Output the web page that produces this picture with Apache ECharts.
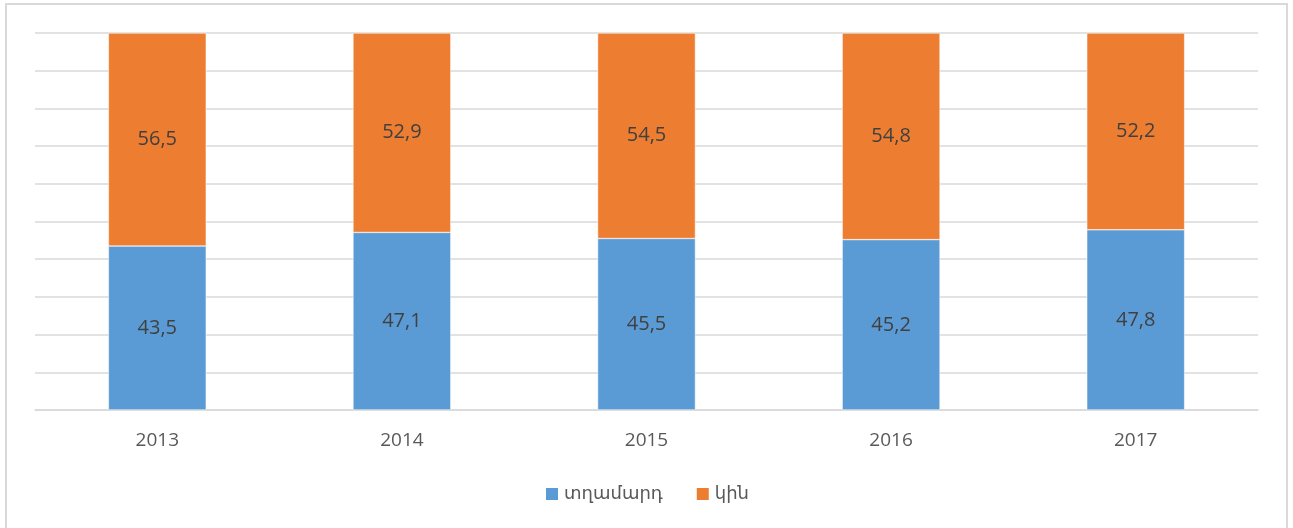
<!DOCTYPE html>
<html><head><meta charset="utf-8">
<script src="https://cdn.jsdelivr.net/npm/echarts@6/dist/echarts.min.js"></script>
<style>html,body{margin:0;padding:0;background:#fff}#c{width:1293px;height:528px}</style>
</head><body><div id="c"></div>
<script>
const categories = ['2013','2014','2015','2016','2017'];
const men = [43.5, 47.1, 45.5, 45.2, 47.8];
const women = [56.5, 52.9, 54.5, 54.8, 52.2];
const seriesNames = ['տղամարդ', 'կին'];
const FONT = '"Open Sans", "DejaVu Sans", sans-serif';
const chart = echarts.init(document.getElementById('c'));
const lbl = {show:true, position:'inside', color:'#404040', fontSize:20, fontFamily:FONT,
  formatter: p => String(p.value).replace('.', ',')};
chart.setOption({
  animation:false,
  textStyle:{fontFamily:FONT},
  graphic:[{type:'rect', shape:{x:6, y:4, width:1281, height:560}, style:{fill:'none', stroke:'#d9d9d9', lineWidth:2}, silent:true}],
  grid:{left:35, right:35, top:33, bottom:118, containLabel:false},
  legend:{data:seriesNames, bottom:20, left:'center', itemWidth:14, itemHeight:14, itemGap:32, icon:'rect',
    textStyle:{color:'#595959', fontSize:18, fontFamily:FONT}},
  xAxis:{type:'category', data:categories,
    axisLine:{lineStyle:{color:'#d9d9d9', width:1.5}}, axisTick:{show:false},
    axisLabel:{color:'#595959', fontSize:19, margin:21, fontFamily:FONT}},
  yAxis:{type:'value', min:0, max:100, interval:10, axisLabel:{show:false}, axisLine:{show:false}, axisTick:{show:false},
    splitLine:{lineStyle:{color:'#d9d9d9', width:1.5}}},
  series:[
    {name:seriesNames[0], type:'bar', stack:'a', data:men, barWidth:'40%', itemStyle:{color:'#5b9bd5', borderColor:'#fff', borderWidth:0.5}, label:lbl},
    {name:seriesNames[1], type:'bar', stack:'a', data:women, barWidth:'40%', itemStyle:{color:'#ed7d31', borderColor:'#fff', borderWidth:0.5}, label:lbl}
  ]
});
</script></body></html>
